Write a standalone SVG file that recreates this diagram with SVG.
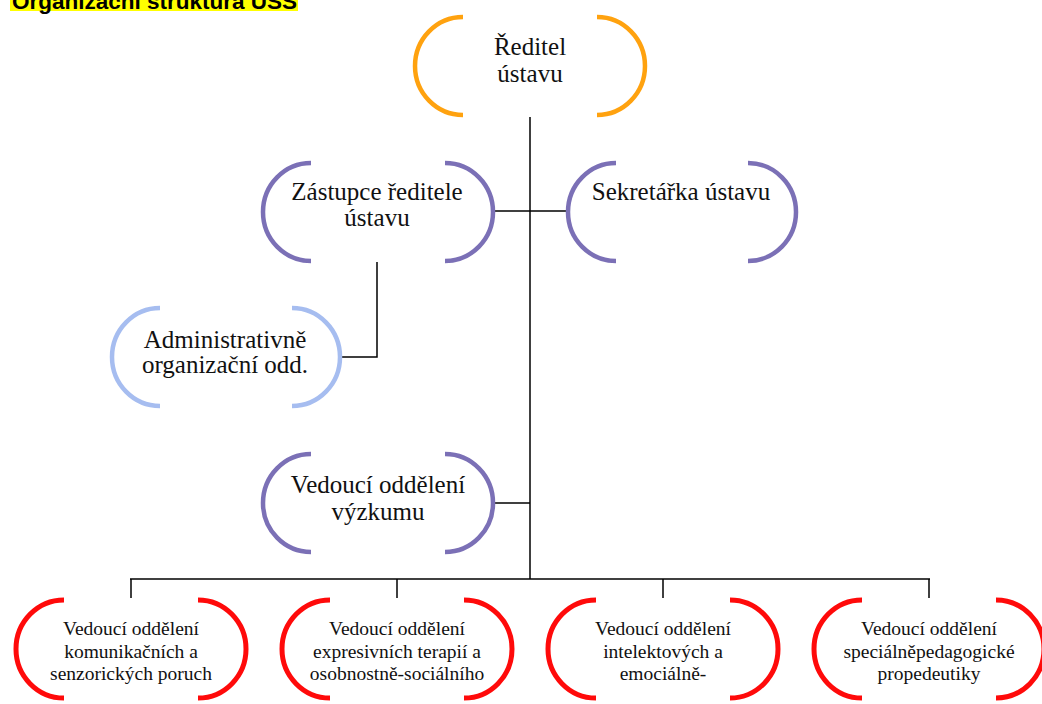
<svg xmlns="http://www.w3.org/2000/svg" width="1042" height="704" viewBox="0 0 1042 704">
<style>
.arc{fill:none;stroke-linecap:butt}
.orange{stroke:#FFA20F;stroke-width:4.5}
.purple{stroke:#7B70B6;stroke-width:4.5}
.blue{stroke:#A6BDF0;stroke-width:4.5}
.red{stroke:#FF0A0A;stroke-width:5}
.t{font-family:"Liberation Serif","Times New Roman",serif;font-size:25px;fill:#111;text-anchor:middle}
.s{font-family:"Liberation Serif","Times New Roman",serif;font-size:19.5px;fill:#111;text-anchor:middle}
.conn line,.conn path{stroke:#000;stroke-width:1.5;fill:none}
</style>
<rect width="1042" height="704" fill="#fff"/>
<g id="title">
<rect x="10" y="-20" width="288" height="31" fill="#FFFF00"/>
<text x="12" y="9" font-family="Liberation Sans, Arial, sans-serif" font-weight="bold" font-size="22.5px" fill="#000">Organizační struktura USS</text>
</g>
<g class="conn" id="connectors">
<line x1="530" y1="117" x2="530" y2="579"/>
<line x1="493" y1="211" x2="568" y2="211"/>
<path d="M377 262 V357 H340"/>
<line x1="493" y1="503" x2="530" y2="503"/>
<line x1="130" y1="579" x2="930" y2="579"/>
<line x1="131" y1="579" x2="131" y2="598"/>
<line x1="397" y1="579" x2="397" y2="598"/>
<line x1="663" y1="579" x2="663" y2="598"/>
<line x1="929" y1="579" x2="929" y2="598"/>
</g>
<g id="reditel">
<path class="arc orange" d="M463 17 A48 49 0 0 0 463 115"/>
<path class="arc orange" d="M597 17 A48 49 0 0 1 597 115"/>
<text class="t" x="530" y="55">Ředitel</text>
<text class="t" x="530" y="82">ústavu</text>
</g>
<g id="zastupce">
<path class="arc purple" d="M311 163 A48 49 0 0 0 311 261"/>
<path class="arc purple" d="M445 163 A48 49 0 0 1 445 261"/>
<text class="t" x="377" y="200">Zástupce ředitele</text>
<text class="t" x="377" y="226">ústavu</text>
</g>
<g id="sekretarka">
<path class="arc purple" d="M616 163 A48 49 0 0 0 616 261"/>
<path class="arc purple" d="M748 163 A48 49 0 0 1 748 261"/>
<text class="t" x="681" y="200">Sekretářka ústavu</text>
</g>
<g id="administrativne">
<path class="arc blue" d="M160 308 A48 49 0 0 0 160 406"/>
<path class="arc blue" d="M292 308 A48 49 0 0 1 292 406"/>
<text class="t" x="225" y="348">Administrativně</text>
<text class="t" x="225" y="373">organizační odd.</text>
</g>
<g id="vyzkum">
<path class="arc purple" d="M311 454 A48 49 0 0 0 311 552"/>
<path class="arc purple" d="M445 454 A48 49 0 0 1 445 552"/>
<text class="t" x="378" y="493">Vedoucí oddělení</text>
<text class="t" x="378" y="520">výzkumu</text>
</g>
<g id="komunikacnich">
<path class="arc red" d="M64 600 A48 49 0 0 0 64 698"/>
<path class="arc red" d="M198 600 A48 49 0 0 1 198 698"/>
<text class="s" x="131" y="635">Vedoucí oddělení</text>
<text class="s" x="131" y="658">komunikačních a</text>
<text class="s" x="131" y="680">senzorických poruch</text>
</g>
<g id="expresivnich">
<path class="arc red" d="M330 600 A48 49 0 0 0 330 698"/>
<path class="arc red" d="M464 600 A48 49 0 0 1 464 698"/>
<text class="s" x="397" y="635">Vedoucí oddělení</text>
<text class="s" x="397" y="658">expresivních terapií a</text>
<text class="s" x="397" y="680">osobnostně-sociálního</text>
</g>
<g id="intelektovych">
<path class="arc red" d="M596 600 A48 49 0 0 0 596 698"/>
<path class="arc red" d="M730 600 A48 49 0 0 1 730 698"/>
<text class="s" x="663" y="635">Vedoucí oddělení</text>
<text class="s" x="663" y="658">intelektových a</text>
<text class="s" x="663" y="680">emociálně-</text>
</g>
<g id="specialne">
<path class="arc red" d="M862 600 A48 49 0 0 0 862 698"/>
<path class="arc red" d="M996 600 A48 49 0 0 1 996 698"/>
<text class="s" x="929" y="635">Vedoucí oddělení</text>
<text class="s" x="929" y="658">speciálněpedagogické</text>
<text class="s" x="929" y="680">propedeutiky</text>
</g>
</svg>
